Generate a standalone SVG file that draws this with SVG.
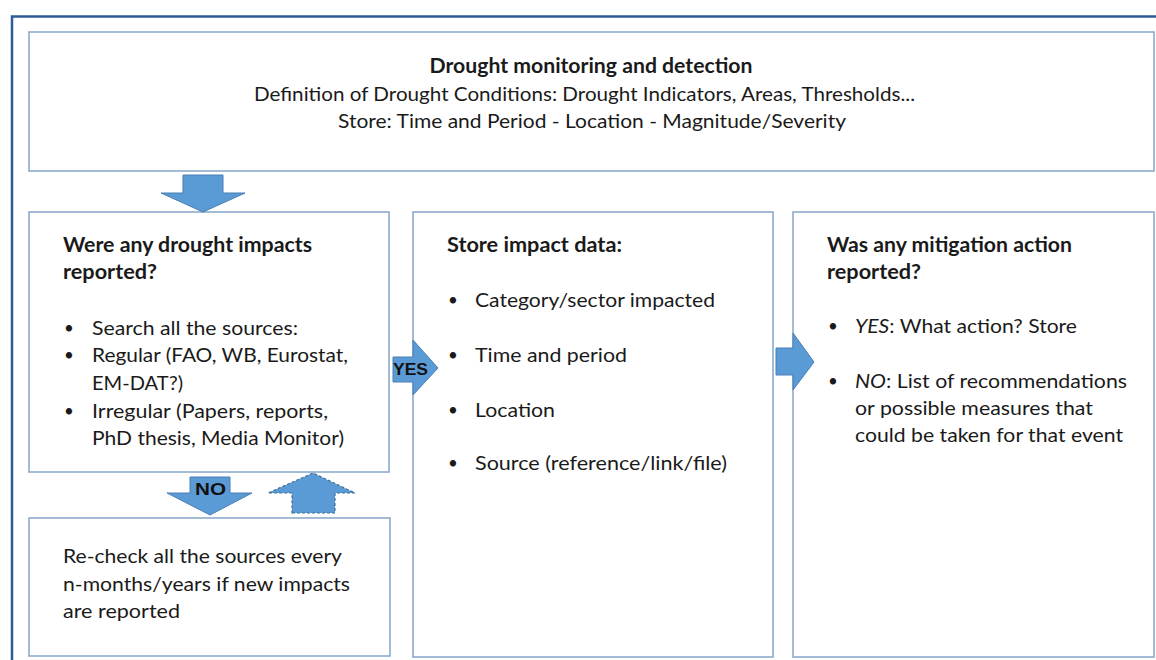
<svg xmlns="http://www.w3.org/2000/svg" width="1156" height="660" viewBox="0 0 1156 660">
  <style>
    .frame { fill: none; stroke: #2e5a9a; stroke-width: 2.5; }
    .box { fill: #ffffff; stroke: #8eaacb; stroke-width: 1.6; }
    .t { font-family: Lato, "Liberation Sans", sans-serif; font-size: 20px; fill: #1a1a1a; }
    .b { font-weight: bold; }
    .dot { font-family: Lato, "Liberation Sans", sans-serif; font-size: 17px; fill: #1a1a1a; }
    .arrow { fill: #5b9bd5; stroke: #4a7fb5; stroke-width: 1; }
    .dash { fill: #5b9bd5; stroke: #41719c; stroke-width: 1.2; stroke-dasharray: 3 2; }
    .lbl { font-family: "Liberation Sans", Arial, sans-serif; font-size: 17px; font-weight: bold; fill: #111111; }
  </style>

  <rect width="1156" height="660" fill="#ffffff"/>
  <!-- outer frame, running off the right and bottom edges -->
  <path class="frame" d="M12,672 L12,16.5 L1170,16.5"/>

  <g id="monitoring">
    <rect class="box" x="29" y="32" width="1125" height="139"/>
    <text class="t b" x="591" y="73" text-anchor="middle" textLength="323" lengthAdjust="spacingAndGlyphs">Drought monitoring and detection</text>
    <text class="t" x="584.5" y="101" text-anchor="middle" textLength="661" lengthAdjust="spacingAndGlyphs">Definition of Drought Conditions: Drought Indicators, Areas, Thresholds...</text>
    <text class="t" x="592" y="128" text-anchor="middle" textLength="508" lengthAdjust="spacingAndGlyphs">Store: Time and Period - Location - Magnitude/Severity</text>
  </g>

  <g id="impacts-reported">
    <rect class="box" x="29" y="212" width="360" height="260"/>
    <text class="t b" x="63" y="252" textLength="249" lengthAdjust="spacingAndGlyphs">Were any drought impacts</text>
    <text class="t b" x="63" y="279" textLength="94" lengthAdjust="spacingAndGlyphs">reported?</text>
    <text class="dot" x="64" y="334">•</text>
    <text class="t" x="92" y="335" textLength="206" lengthAdjust="spacingAndGlyphs">Search all the sources:</text>
    <text class="dot" x="64" y="361">•</text>
    <text class="t" x="92" y="362" textLength="256" lengthAdjust="spacingAndGlyphs">Regular (FAO, WB, Eurostat,</text>
    <text class="t" x="92" y="390" textLength="91" lengthAdjust="spacingAndGlyphs">EM-DAT?)</text>
    <text class="dot" x="64" y="417">•</text>
    <text class="t" x="92" y="418" textLength="236" lengthAdjust="spacingAndGlyphs">Irregular (Papers, reports,</text>
    <text class="t" x="92" y="445" textLength="252" lengthAdjust="spacingAndGlyphs">PhD thesis, Media Monitor)</text>
  </g>

  <g id="recheck">
    <rect class="box" x="29" y="518" width="361" height="138"/>
    <text class="t" x="63" y="563" textLength="279" lengthAdjust="spacingAndGlyphs">Re-check all the sources every</text>
    <text class="t" x="63" y="591" textLength="287" lengthAdjust="spacingAndGlyphs">n-months/years if new impacts</text>
    <text class="t" x="63" y="618" textLength="117" lengthAdjust="spacingAndGlyphs">are reported</text>
  </g>

  <g id="store-impact">
    <rect class="box" x="413" y="212" width="360" height="445"/>
    <text class="t b" x="447" y="252" textLength="175" lengthAdjust="spacingAndGlyphs">Store impact data:</text>
    <text class="dot" x="448" y="306">•</text>
    <text class="t" x="475" y="307" textLength="240" lengthAdjust="spacingAndGlyphs">Category/sector impacted</text>
    <text class="dot" x="448" y="361">•</text>
    <text class="t" x="475" y="362" textLength="152" lengthAdjust="spacingAndGlyphs">Time and period</text>
    <text class="dot" x="448" y="416">•</text>
    <text class="t" x="475" y="417" textLength="80" lengthAdjust="spacingAndGlyphs">Location</text>
    <text class="dot" x="448" y="469">•</text>
    <text class="t" x="475" y="470" textLength="252" lengthAdjust="spacingAndGlyphs">Source (reference/link/file)</text>
  </g>

  <g id="mitigation">
    <rect class="box" x="793" y="212" width="361" height="445"/>
    <text class="t b" x="827" y="252" textLength="245" lengthAdjust="spacingAndGlyphs">Was any mitigation action</text>
    <text class="t b" x="827" y="279" textLength="94" lengthAdjust="spacingAndGlyphs">reported?</text>
    <text class="dot" x="828" y="332">•</text>
    <text class="t" x="855" y="333" textLength="222" lengthAdjust="spacingAndGlyphs"><tspan font-style="italic">YES</tspan>: What action? Store</text>
    <text class="dot" x="828" y="387">•</text>
    <text class="t" x="855" y="388" textLength="272" lengthAdjust="spacingAndGlyphs"><tspan font-style="italic">NO</tspan>: List of recommendations</text>
    <text class="t" x="855" y="415" textLength="238" lengthAdjust="spacingAndGlyphs">or possible measures that</text>
    <text class="t" x="855" y="442" textLength="268" lengthAdjust="spacingAndGlyphs">could be taken for that event</text>
  </g>

  <g id="connectors">
    <!-- down: monitoring to impacts question -->
    <polygon class="arrow" points="183,175 223,175 223,193 245,193 203,212 161,193 183,193"/>
    <!-- YES: impacts question to store impact data -->
    <polygon class="arrow" points="393,357 413,357 413,340 438,368 413,395 413,382 393,382"/>
    <text class="lbl" x="393" y="375" textLength="35" lengthAdjust="spacingAndGlyphs">YES</text>
    <!-- store impact data to mitigation -->
    <polygon class="arrow" points="776,348 793,348 793,333 814,362 793,390 793,375 776,375"/>
    <!-- NO: impacts question to re-check -->
    <polygon class="arrow" points="190,477 230,477 230,493 252,493 210,515 167,493 190,493"/>
    <text class="lbl" x="195" y="495" textLength="31" lengthAdjust="spacingAndGlyphs">NO</text>
    <!-- dashed return: re-check back to impacts question -->
    <polygon class="dash" points="292,513 335,513 335,493 355,493 313,473 268,493 292,493"/>
  </g>
</svg>
